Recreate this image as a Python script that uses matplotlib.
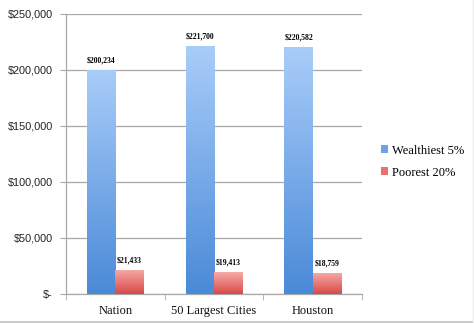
import matplotlib
matplotlib.use("Agg")
import matplotlib.pyplot as plt
import numpy as np
from matplotlib.colors import LinearSegmentedColormap
from matplotlib.lines import Line2D
from matplotlib.patches import Patch

categories = ["Nation", "50 Largest Cities", "Houston"]
wealthiest = [200234, 221700, 220582]
poorest = [21433, 19413, 18759]
series_names = ["Wealthiest 5%", "Poorest 20%"]
yticks = [0, 50000, 100000, 150000, 200000, 250000]
ytick_labels = ["$-", "$50,000", "$100,000", "$150,000", "$200,000", "$250,000"]

fig = plt.figure(figsize=(4.74, 3.23), dpi=100)
ax = fig.add_axes([0.139, 0.0898, 0.625, 0.867])

x = np.arange(len(categories))
w = 0.287
blue_cmap = LinearSegmentedColormap.from_list("b", ["#4a8ad8", "#a9cdf9"])
red_cmap = LinearSegmentedColormap.from_list("r", ["#d64a48", "#f8aba8"])

grad = np.linspace(0, 1, 256).reshape(-1, 1)

def gradient_bars(bars, cmap):
    for b in bars:
        x0, y0 = b.get_x(), b.get_y()
        bw, bh = b.get_width(), b.get_height()
        im = ax.imshow(grad, cmap=cmap, origin="lower", aspect="auto",
                       extent=[x0, x0 + bw, y0, y0 + bh], zorder=3,
                       interpolation="bilinear")
        im.set_clip_path(b)

b1 = ax.bar(x - w / 2, wealthiest, w, color="#7aaeea", zorder=2, linewidth=0)
b2 = ax.bar(x + w / 2, poorest, w, color="#e87a78", zorder=2, linewidth=0)
gradient_bars(b1, blue_cmap)
gradient_bars(b2, red_cmap)

for xi, v in zip(x - w / 2, wealthiest):
    ax.text(xi, v + 5000, "${:,}".format(v), ha="center", va="bottom",
            fontsize=5.5, fontweight="bold", family="Liberation Serif", zorder=4)
for xi, v in zip(x + w / 2, poorest):
    ax.text(xi, v + 5000, "${:,}".format(v), ha="center", va="bottom",
            fontsize=5.5, fontweight="bold", family="Liberation Serif", zorder=4)

ax.set_xlim(-0.5, len(categories) - 0.5)
ax.set_ylim(0, 250000)
ax.set_yticks(yticks)
ax.set_yticklabels(ytick_labels, fontsize=7.8, family="Liberation Sans", color="#222222")
ax.yaxis.grid(True, color="#a8a8a8", linewidth=0.9, zorder=0)
ax.set_axisbelow(True)

ax.set_xticks(x)
ax.set_xticklabels(categories, fontsize=9, family="Liberation Serif", color="#111111")
ax.tick_params(axis="x", length=0, pad=8)
ax.set_xticks(np.arange(-0.5, len(categories), 1), minor=True)
ax.tick_params(axis="x", which="minor", length=4, color="#a8a8a8", direction="out")
ax.tick_params(axis="y", length=4, color="#a8a8a8", direction="out", pad=5.5)

for s in ["top", "right"]:
    ax.spines[s].set_visible(False)
for s in ["left", "bottom"]:
    ax.spines[s].set_color("#a8a8a8")
    ax.spines[s].set_linewidth(0.9)

handles = [Patch(facecolor="#6ea4e6", edgecolor="none"),
           Patch(facecolor="#e8706e", edgecolor="none")]
fig.legend(handles, series_names, loc="center left", bbox_to_anchor=(0.78, 0.5),
           frameon=False, handlelength=0.55, handleheight=0.55, handletextpad=0.3,
           labelspacing=0.8, prop={"family": "Liberation Serif", "size": 9})

fig.add_artist(Line2D([0, 1], [0.004, 0.004], transform=fig.transFigure,
                      color="#c8c8c8", linewidth=2))
fig.add_artist(Line2D([0.998, 0.998], [0, 1], transform=fig.transFigure,
                      color="#eeeeee", linewidth=1))

fig.savefig("out.png", dpi=100)
